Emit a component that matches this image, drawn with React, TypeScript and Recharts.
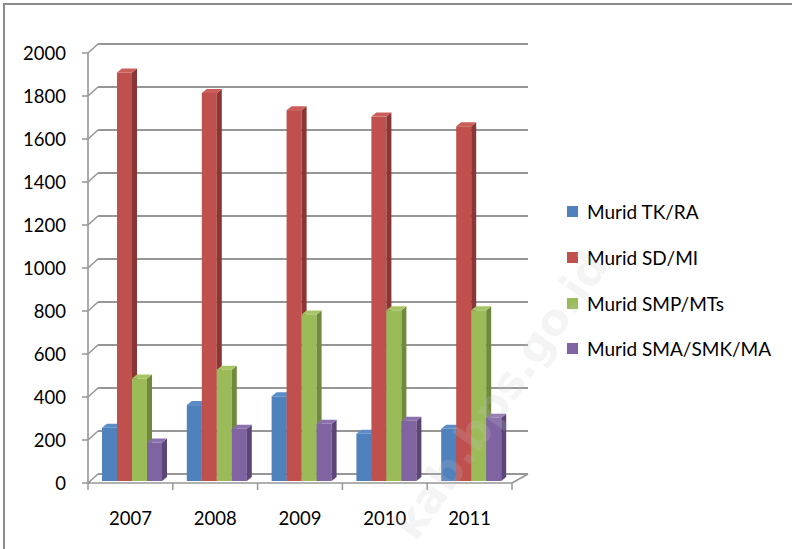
import React from "react";
import { BarChart, Bar, XAxis, YAxis, CartesianGrid } from "recharts";

const years = ["2007", "2008", "2009", "2010", "2011"];
const muridTK = [248, 353, 394, 220, 243];
const muridSD = [1900, 1805, 1725, 1695, 1650];
const muridSMP = [477, 518, 775, 794, 794];
const muridSMA = [179, 243, 266, 280, 294];
const yTicks = [0, 200, 400, 600, 800, 1000, 1200, 1400, 1600, 1800, 2000];

const series = [
  { key: "tk", name: "Murid TK/RA", fill: "#4F81BD", side: "#385D8A", top: "#5B8CC6" },
  { key: "sd", name: "Murid SD/MI", fill: "#C0504D", side: "#8A3634", top: "#CB5D5A" },
  { key: "smp", name: "Murid SMP/MTs", fill: "#9BBB59", side: "#6F8A3C", top: "#A8C566" },
  { key: "sma", name: "Murid SMA/SMK/MA", fill: "#8064A2", side: "#5B4677", top: "#8C70AE" },
];

const data = years.map((year, i) => ({
  year,
  tk: muridTK[i],
  sd: muridSD[i],
  smp: muridSMP[i],
  sma: muridSMA[i],
}));

const W = 792;
const H = 549;
const LEFT = 88;
const RIGHT_EDGE = 512;
const BAND = (RIGHT_EDGE - LEFT) / years.length;
const GRID = "#969696";
const FONT = "Lato, 'Open Sans', sans-serif";

// 3d-ish column: front face, darker right side, lighter top
function Column3D(props: any) {
  const { x, y, width, height, fill, side, top } = props;
  if (!height || height <= 0) return null;
  const fx = x + 2;
  const fy = y - 2;
  const d = 5;
  const dy = 4;
  return (
    <g>
      <rect x={fx} y={fy} width={width} height={height} fill={fill} />
      <polygon
        points={`${fx + width},${fy} ${fx + width + d},${fy - dy} ${fx + width + d},${fy + height - dy} ${fx + width},${fy + height}`}
        fill={side}
      />
      <polygon
        points={`${fx},${fy} ${fx + d},${fy - dy} ${fx + width + d},${fy - dy} ${fx + width},${fy}`}
        fill={top}
      />
    </g>
  );
}

function GridLine(props: any) {
  const { x1, x2, y1, index } = props;
  const by = y1 - 9;
  return (
    <g key={`g-${index}-${y1}`}>
      <line x1={x1} y1={y1} x2={x1 + 10} y2={by} stroke={GRID} strokeWidth={1.6} />
      <line x1={x1 + 10} y1={by} x2={x2 + 16} y2={by} stroke={GRID} strokeWidth={2} />
      {Math.abs(y1 - 483) < 2 && (
        <line x1={x2} y1={y1} x2={x2 + 16} y2={by} stroke={GRID} strokeWidth={1.6} />
      )}
    </g>
  );
}

function YearTick(props: any) {
  const { x, y, payload, index } = props;
  const half = BAND / 2;
  return (
    <g>
      <line x1={x - half} y1={y} x2={x - half} y2={y + 7} stroke={GRID} strokeWidth={1.5} />
      {index === years.length - 1 && (
        <line x1={x + half} y1={y} x2={x + half} y2={y + 7} stroke={GRID} strokeWidth={1.5} />
      )}
      <text x={x} y={y + 42} textAnchor="middle" fontSize={18.5} fontFamily={FONT} fill="#000">
        {payload.value}
      </text>
    </g>
  );
}

export default function App() {
  return (
    <div
      style={{
        position: "absolute",
        left: 0,
        top: 0,
        width: W,
        height: H,
        overflow: "hidden",
        background: "#fff",
        fontFamily: FONT,
      }}
    >
      <div
        style={{
          position: "absolute",
          left: 3,
          top: 3,
          width: 840,
          height: 620,
          border: "2px solid #8c8c8c",
        }}
      />
      <BarChart
        width={W}
        height={H}
        data={data}
        margin={{ top: 53, right: W - RIGHT_EDGE, bottom: 26, left: 28 }}
        barGap={0}
        barSize={15}
        style={{ position: "absolute", left: 0, top: 0 }}
      >
        <CartesianGrid vertical={false} horizontal={GridLine} />
        <XAxis
          dataKey="year"
          height={40}
          tickLine={false}
          tickSize={0}
          tickMargin={0}
          axisLine={{ stroke: GRID, strokeWidth: 1.6 }}
          tick={YearTick}
          interval={0}
        />
        <YAxis
          width={60}
          domain={[0, 2000]}
          ticks={yTicks}
          interval={0}
          tickSize={6}
          tickMargin={16}
          axisLine={{ stroke: GRID, strokeWidth: 1.6 }}
          tickLine={{ stroke: GRID, strokeWidth: 1.5 }}
          tick={{ fontSize: 18.5, fontFamily: FONT, fill: "#000" }}
        />
        {series.map((s) => (
          <Bar
            key={s.key}
            dataKey={s.key}
            name={s.name}
            fill={s.fill}
            isAnimationActive={false}
            shape={(p: any) => <Column3D {...p} fill={s.fill} side={s.side} top={s.top} />}
          />
        ))}
      </BarChart>

      <div style={{ position: "absolute", left: 567, top: 189 }}>
        {series.map((s) => (
          <div
            key={s.key}
            style={{ display: "flex", alignItems: "center", height: 45.7, fontSize: 19, color: "#000" }}
          >
            <span
              style={{ display: "inline-block", width: 11, height: 11, background: s.fill, marginRight: 9 }}
            />
            <span>{s.name}</span>
          </div>
        ))}
      </div>

      <div
        style={{
          position: "absolute",
          left: 500,
          top: 395,
          transform: "translate(-50%, -50%) rotate(-55deg)",
          fontSize: 44,
          fontWeight: 700,
          fontFamily: "'DejaVu Sans', sans-serif",
          color: "rgba(200,200,200,0.2)",
          whiteSpace: "nowrap",
          pointerEvents: "none",
        }}
      >
        kab.bps.go.id
      </div>
    </div>
  );
}
